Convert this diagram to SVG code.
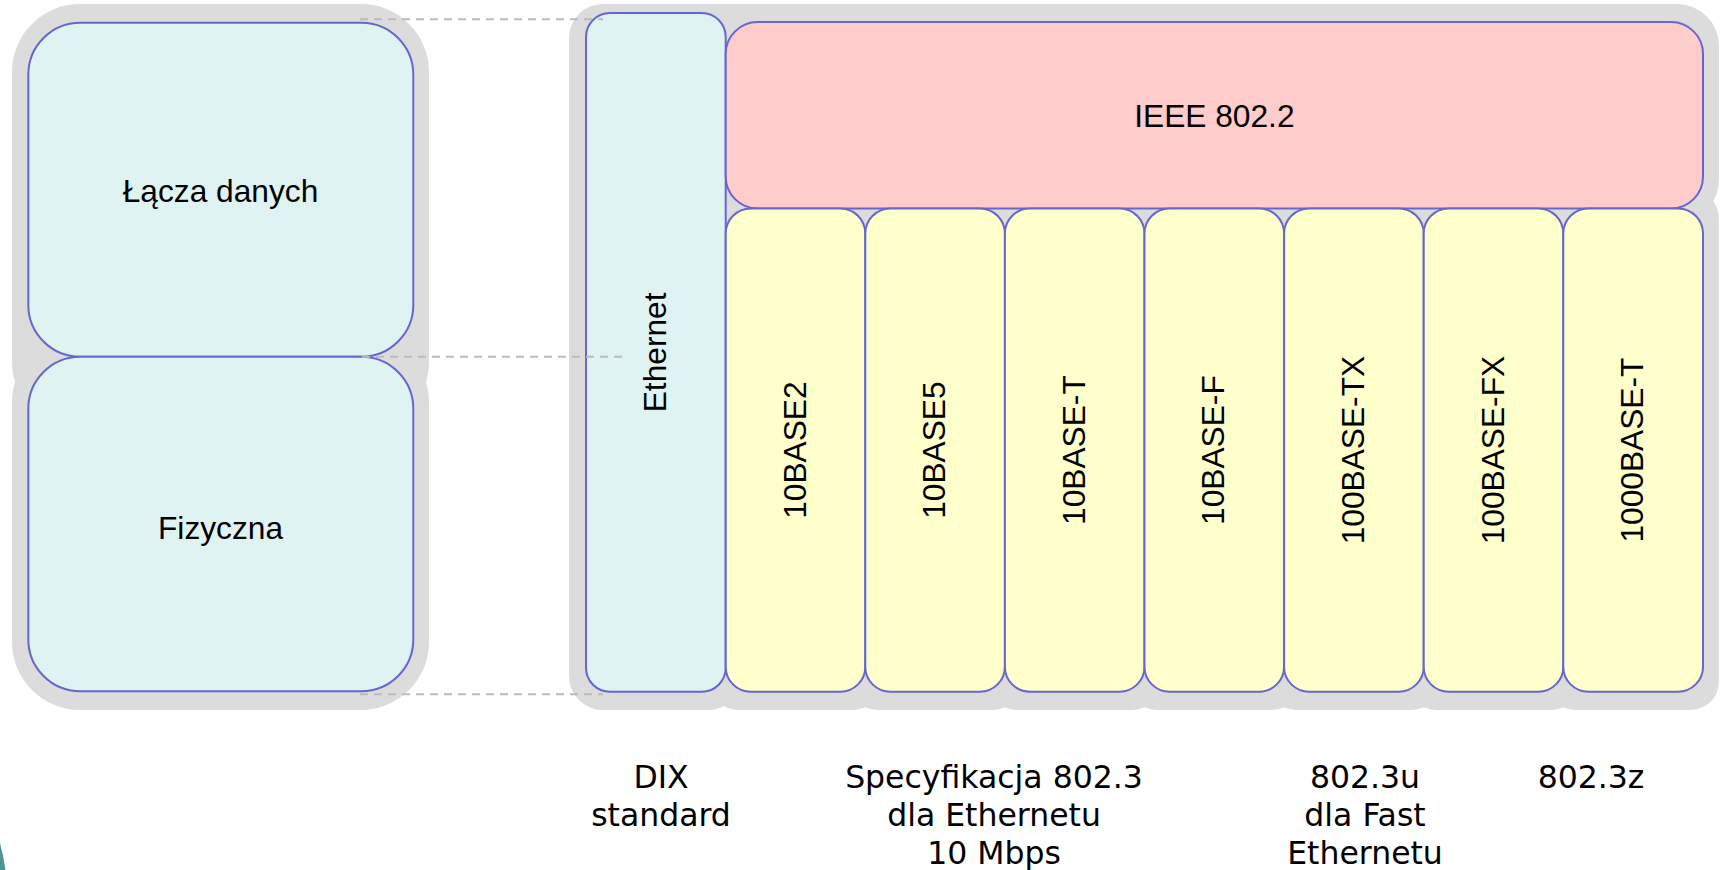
<svg xmlns="http://www.w3.org/2000/svg" width="1721" height="870" viewBox="0 0 1721 870">
  <style>
    .halo { fill: #dcdcdc; }
    .box { stroke: #6666cc; stroke-width: 2; }
    .cyan { fill: #e0f3f3; }
    .pink { fill: #ffcccc; }
    .yel { fill: #ffffcc; }
    .lbl { font-family: "Liberation Sans", Arial, sans-serif; font-size: 31.7px; fill: #000; text-anchor: middle; }
    .note { font-family: "DejaVu Sans", Verdana, sans-serif; font-size: 31.5px; fill: #000; text-anchor: middle; }
    .guide { stroke: #bbbbbb; stroke-width: 2; stroke-dasharray: 8 6; fill: none; }
  </style>

  <rect width="1721" height="870" fill="#ffffff"/>

  <!-- slide decoration, bottom-left corner -->
  <path d="M0,843 Q3.5,856 5.5,870 L0,870 Z" fill="#4f9595"/>

  <!-- gray halos behind the layer stacks -->
  <g id="halos" class="halo">
    <rect x="12" y="4" width="417" height="426" rx="68"/>
    <rect x="12" y="334" width="417" height="376" rx="68"/>
    <rect x="569" y="4" width="173" height="706" rx="34"/>
    <rect x="600" y="4" width="1119" height="218" rx="42"/>
    <rect x="709.7" y="190" width="171.6" height="520" rx="28"/>
    <rect x="849.3" y="190" width="171.6" height="520" rx="28"/>
    <rect x="988.9" y="190" width="171.6" height="520" rx="28"/>
    <rect x="1128.5" y="190" width="171.6" height="520" rx="28"/>
    <rect x="1268.1" y="190" width="171.6" height="520" rx="28"/>
    <rect x="1407.7" y="190" width="171.6" height="520" rx="28"/>
    <rect x="1547.3" y="190" width="171.6" height="520" rx="28"/>
  </g>

  <!-- OSI layers -->
  <g id="osi-data-link">
    <rect class="box cyan" x="28.3" y="22.7" width="385" height="334" rx="52"/>
    <text class="lbl" x="220.5" y="201.5">Łącza danych</text>
  </g>
  <g id="osi-physical">
    <rect class="box cyan" x="28.3" y="356.7" width="385" height="334.5" rx="52"/>
    <text class="lbl" x="220.5" y="538.5">Fizyczna</text>
  </g>

  <!-- Ethernet family -->
  <g id="ethernet">
    <rect class="box cyan" x="586" y="13" width="139.7" height="678.7" rx="24"/>
    <text class="lbl" transform="translate(656,352.4) rotate(-90)" x="0" y="10">Ethernet</text>
  </g>
  <g id="ieee-802-2">
    <rect class="box pink" x="725.7" y="22" width="977.3" height="186.5" rx="32"/>
    <text class="lbl" x="1214.4" y="126.5">IEEE 802.2</text>
  </g>
  <g id="b10base2">
    <rect class="box yel" x="725.7" y="208.5" width="139.6" height="483.2" rx="25"/>
    <text class="lbl" transform="translate(795.5,450.1) rotate(-90)" x="0" y="10">10BASE2</text>
  </g>
  <g id="b10base5">
    <rect class="box yel" x="865.3" y="208.5" width="139.6" height="483.2" rx="25"/>
    <text class="lbl" transform="translate(935.1,450.1) rotate(-90)" x="0" y="10">10BASE5</text>
  </g>
  <g id="b10base-t">
    <rect class="box yel" x="1004.9" y="208.5" width="139.6" height="483.2" rx="25"/>
    <text class="lbl" transform="translate(1074.7,450.1) rotate(-90)" x="0" y="10">10BASE-T</text>
  </g>
  <g id="b10base-f">
    <rect class="box yel" x="1144.5" y="208.5" width="139.6" height="483.2" rx="25"/>
    <text class="lbl" transform="translate(1214.3,450.1) rotate(-90)" x="0" y="10">10BASE-F</text>
  </g>
  <g id="b100base-tx">
    <rect class="box yel" x="1284.1" y="208.5" width="139.6" height="483.2" rx="25"/>
    <text class="lbl" transform="translate(1353.9,450.1) rotate(-90)" x="0" y="10">100BASE-TX</text>
  </g>
  <g id="b100base-fx">
    <rect class="box yel" x="1423.7" y="208.5" width="139.6" height="483.2" rx="25"/>
    <text class="lbl" transform="translate(1493.5,450.1) rotate(-90)" x="0" y="10">100BASE-FX</text>
  </g>
  <g id="b1000base-t">
    <rect class="box yel" x="1563.3" y="208.5" width="139.7" height="483.2" rx="25"/>
    <text class="lbl" transform="translate(1633.1,450.1) rotate(-90)" x="0" y="10">1000BASE-T</text>
  </g>

  <!-- dashed guides linking the OSI layer borders -->
  <g id="connectors" class="guide">
    <line x1="360" y1="19.3" x2="603" y2="19.3"/>
    <line x1="362" y1="356.7" x2="622" y2="356.7"/>
    <line x1="360" y1="694.3" x2="603" y2="694.3"/>
  </g>

  <!-- standards captions -->
  <g id="captions" class="note">
    <text x="661" y="788">DIX</text>
    <text x="661" y="826">standard</text>
    <text x="994" y="788">Specyfikacja 802.3</text>
    <text x="994" y="826">dla Ethernetu</text>
    <text x="994" y="864">10 Mbps</text>
    <text x="1365" y="788">802.3u</text>
    <text x="1365" y="826">dla Fast</text>
    <text x="1365" y="864">Ethernetu</text>
    <text x="1591" y="788">802.3z</text>
  </g>
</svg>
